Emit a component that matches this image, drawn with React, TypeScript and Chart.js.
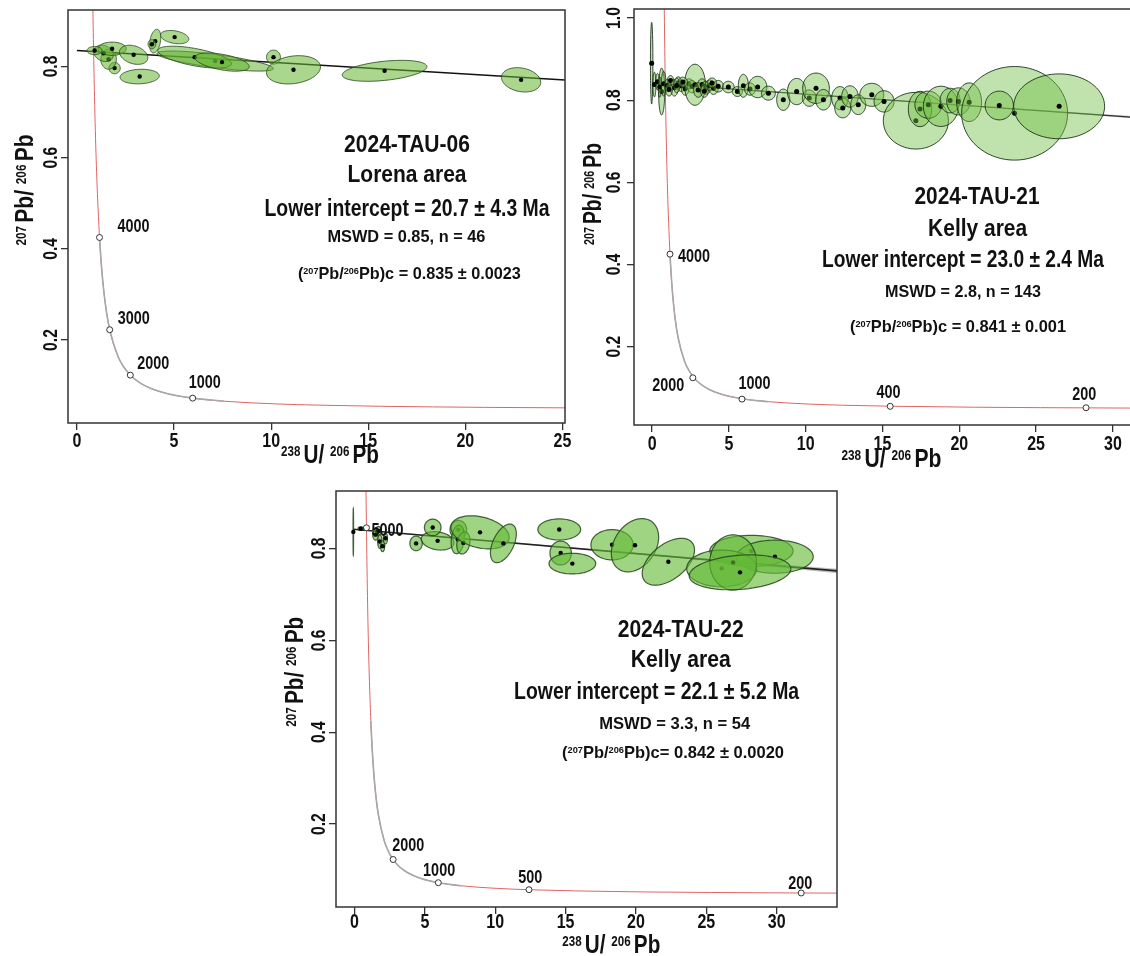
import React, { useEffect, useRef } from 'react';
import { Chart, registerables } from 'chart.js';
Chart.register(...registerables);

const FONT = '"Liberation Sans", Arial, Helvetica, sans-serif';

// ---------- Concordia curve (Tera-Wasserburg), ages in Ma ----------
const concordiaAge = [5300, 5250, 5200, 5100, 5000, 4800, 4500, 4000, 3750, 3500, 3250, 3000, 2500, 2250, 2000, 1750, 1500, 1250, 1000, 800, 600, 500, 400, 300, 250, 200, 180];
const concordiaX = [0.784, 0.795, 0.806, 0.829, 0.853, 0.9045, 0.99, 1.163, 1.267, 1.387, 1.525, 1.687, 2.111, 2.394, 2.749, 3.206, 3.817, 4.673, 5.959, 7.568, 10.252, 12.399, 15.621, 20.992, 25.289, 31.735, 35.316];
const concordiaY = [1.046, 1.009, 0.9735, 0.907, 0.845, 0.7346, 0.597, 0.425, 0.36, 0.306, 0.2605, 0.2226, 0.1643, 0.1419, 0.123, 0.1071, 0.0936, 0.0822, 0.0725, 0.0658, 0.0599, 0.0572, 0.0547, 0.0523, 0.0512, 0.0501, 0.0497];

// ---------- Axis ticks ----------
const xTicks1 = [0, 5, 10, 15, 20, 25];
const xTicks2 = [0, 5, 10, 15, 20, 25, 30];
const xTicks3 = [0, 5, 10, 15, 20, 25, 30];
const yTicks1 = [0.2, 0.4, 0.6, 0.8];
const yTicks2 = [0.2, 0.4, 0.6, 0.8, 1.0];
const yTicks3 = [0.2, 0.4, 0.6, 0.8];
const yTickLabels1 = ['0.2', '0.4', '0.6', '0.8'];
const yTickLabels2 = ['0.2', '0.4', '0.6', '0.8', '1.0'];
const yTickLabels3 = ['0.2', '0.4', '0.6', '0.8'];

// ---------- Panel 1: 2024-TAU-06 ----------
const p1X = [7.12, 6.06, 7.47, 3.23, 1.94, 1.63, 1.37, 1.81, 0.91, 2.92, 4.03, 3.86, 5.03, 10.12, 11.15, 15.84, 22.87];
const p1Y = [0.812, 0.8206, 0.8097, 0.778, 0.7965, 0.816, 0.829, 0.839, 0.835, 0.8257, 0.8557, 0.849, 0.8645, 0.8206, 0.7928, 0.7906, 0.7708];
const p1SX = [3.0, 1.9, 1.4, 1.01, 0.29, 0.4, 0.5, 0.73, 0.39, 0.73, 0.29, 0.2, 0.73, 0.36, 1.39, 2.18, 1.01];
const p1SY = [0.022, 0.024, 0.02, 0.016, 0.0124, 0.022, 0.018, 0.0146, 0.009, 0.021, 0.026, 0.01, 0.0146, 0.0154, 0.031, 0.023, 0.0267];
const p1Rho = [-0.75, -0.6, -0.5, 0.1, 0, 0, -0.2, 0, 0, -0.3, 0.3, 0, -0.3, 0, 0.2, 0.4, -0.2];
const p1LineX = [0, 25.14];
const p1LineY = [0.835, 0.7704];
const p1AgeLabels = ['4000', '3000', '2000', '1000'];
const p1AgeX = [1.163, 1.687, 2.749, 5.959];
const p1AgeY = [0.425, 0.2226, 0.123, 0.0725];
const p1Notes = ['2024-TAU-06', 'Lorena area', 'Lower intercept = 20.7 ± 4.3 Ma', 'MSWD = 0.85, n = 46', 'Pb)c = 0.835 ± 0.0023'];

// ---------- Panel 2: 2024-TAU-21 ----------
const p2X = [-0.03, 0.62, 0.15, 0.35, 0.5, 0.75, 1.0, 1.2, 1.45, 1.7, 1.9, 2.15, 2.4, 2.6, 2.79, 3.0, 3.25, 3.5, 3.75, 4.0, 4.3, 1.1, 1.6, 2.0, 3.4, 3.9, 4.96, 5.55, 5.94, 6.37, 6.87, 7.57, 8.54, 9.41, 10.23, 10.67, 11.15, 12.23, 12.41, 12.88, 13.42, 14.3, 15.1, 17.17, 17.44, 17.98, 18.8, 19.4, 19.94, 20.64, 23.6, 22.6, 26.5];
const p2Y = [0.89, 0.821, 0.838, 0.845, 0.832, 0.84, 0.836, 0.848, 0.83, 0.842, 0.835, 0.828, 0.84, 0.833, 0.8375, 0.825, 0.838, 0.83, 0.836, 0.829, 0.834, 0.826, 0.836, 0.844, 0.822, 0.842, 0.832, 0.821, 0.835, 0.827, 0.832, 0.817, 0.801, 0.821, 0.805, 0.829, 0.801, 0.805, 0.781, 0.809, 0.789, 0.813, 0.797, 0.75, 0.7785, 0.789, 0.785, 0.799, 0.797, 0.795, 0.768, 0.787, 0.785];
const p2SX = [0.08, 0.2, 0.1, 0.12, 0.1, 0.15, 0.2, 0.2, 0.25, 0.22, 0.25, 0.25, 0.3, 0.3, 0.68, 0.3, 0.28, 0.32, 0.3, 0.3, 0.35, 0.22, 0.2, 0.3, 0.25, 0.3, 0.38, 0.33, 0.33, 0.35, 0.6, 0.45, 0.43, 0.6, 0.45, 0.87, 0.5, 0.54, 0.52, 0.54, 0.49, 0.78, 0.65, 2.12, 0.76, 0.87, 1.14, 0.65, 0.76, 0.81, 3.45, 0.92, 2.96];
const p2SY = [0.0995, 0.057, 0.03, 0.02, 0.025, 0.03, 0.015, 0.012, 0.02, 0.015, 0.014, 0.016, 0.012, 0.015, 0.05, 0.018, 0.014, 0.016, 0.013, 0.015, 0.014, 0.016, 0.018, 0.012, 0.015, 0.012, 0.014, 0.012, 0.028, 0.015, 0.026, 0.017, 0.026, 0.032, 0.02, 0.037, 0.025, 0.028, 0.024, 0.026, 0.024, 0.028, 0.026, 0.069, 0.043, 0.033, 0.049, 0.03, 0.033, 0.047, 0.114, 0.035, 0.079];
const p2Rho = p2X.map(() => 0);
const p2LineX = [0, 33];
const p2LineY = [0.841, 0.7539];
const p2BandX = [0, 10, 20, 27, 33];
const p2BandLo = [0.84, 0.8137, 0.7869, 0.7679, 0.7508];
const p2BandHi = [0.842, 0.8155, 0.7895, 0.7715, 0.757];
const p2AgeLabels = ['4000', '2000', '1000', '400', '200'];
const p2AgeX = [1.163, 2.65, 5.85, 15.5, 28.25];
const p2AgeY = [0.425, 0.124, 0.072, 0.0545, 0.051];
const p2Notes = ['2024-TAU-21', 'Kelly area', 'Lower intercept = 23.0 ± 2.4 Ma', 'MSWD = 2.8, n = 143', 'Pb)c = 0.841 ± 0.001'];

// ---------- Panel 3: 2024-TAU-22 ----------
const p3X = [-0.08, 0.45, 1.5, 1.7, 1.8, 2.0, 2.2, 4.38, 5.91, 5.56, 7.38, 7.34, 7.74, 8.92, 10.58, 14.55, 14.65, 15.48, 18.3, 19.93, 22.3, 28.2, 29.87, 26.09, 26.9, 27.39];
const p3Y = [0.836, 0.843, 0.83, 0.838, 0.815, 0.805, 0.822, 0.811, 0.8165, 0.8457, 0.841, 0.8196, 0.812, 0.835, 0.811, 0.8413, 0.79, 0.767, 0.808, 0.807, 0.771, 0.7946, 0.782, 0.7565, 0.7696, 0.748];
const p3SX = [0.02, 0.2, 0.2, 0.18, 0.15, 0.15, 0.15, 0.44, 1.16, 0.59, 0.59, 0.47, 0.47, 2.07, 0.92, 1.52, 0.76, 1.66, 1.5, 1.68, 1.86, 2.96, 2.72, 2.49, 1.66, 3.61];
const p3SY = [0.051, 0.004, 0.012, 0.01, 0.015, 0.012, 0.012, 0.016, 0.02, 0.018, 0.02, 0.031, 0.024, 0.036, 0.042, 0.023, 0.026, 0.0225, 0.033, 0.058, 0.051, 0.034, 0.036, 0.04, 0.06, 0.038];
const p3Rho = [0, 0, 0, 0, 0, 0, 0, 0, -0.2, 0, 0, 0.2, 0.2, -0.3, 0.5, 0, 0, 0, 0, 0.3, 0.5, 0, 0, 0, 0, 0.2];
const p3LineX = [-0.1, 34.3];
const p3LineY = [0.842, 0.7511];
const p3BandX = [0, 10, 20, 28, 34.3];
const p3BandLo = [0.841, 0.8145, 0.7875, 0.765, 0.746];
const p3BandHi = [0.843, 0.8165, 0.7905, 0.7705, 0.756];
const p3AgeLabels = ['5000', '2000', '1000', '500', '200'];
const p3AgeX = [0.853, 2.749, 5.959, 12.399, 31.735];
const p3AgeY = [0.845, 0.123, 0.0725, 0.0572, 0.0501];
const p3Notes = ['2024-TAU-22', 'Kelly area', 'Lower intercept = 22.1 ± 5.2 Ma', 'MSWD = 3.3, n = 54', 'Pb)c= 0.842 ± 0.0020'];

// ---------- drawing helpers ----------
type Seg = [string, boolean?];
function rich(ctx: CanvasRenderingContext2D, segs: Seg[], x: number, y: number, size: number, align: string, opts: { w?: number; sq?: number; rot?: number } = {}) {
  ctx.save();
  ctx.translate(x, y);
  if (opts.rot) ctx.rotate(opts.rot);
  const supSize = size * 0.56;
  const widths = segs.map(([t, sup]) => {
    ctx.font = `bold ${sup ? supSize : size}px ${FONT}`;
    return ctx.measureText(t).width;
  });
  const total = widths.reduce((a, b) => a + b, 0);
  const sq = opts.w ? opts.w / total : opts.sq ?? 0.8;
  ctx.scale(sq, 1);
  let cx = align === 'left' ? 0 : align === 'center' ? -total / 2 : -total;
  const base = size * 0.36;
  ctx.fillStyle = '#111';
  ctx.textAlign = 'left';
  ctx.textBaseline = 'alphabetic';
  segs.forEach(([t, sup], i) => {
    ctx.font = `bold ${sup ? supSize : size}px ${FONT}`;
    ctx.fillText(t, cx, sup ? base - size * 0.3 : base);
    cx += widths[i];
  });
  ctx.restore();
}

const Y_TITLE: Seg[] = [['207 ', true], ['Pb/ ', false], ['206 ', true], ['Pb', false]];
const X_TITLE: Seg[] = [['238 ', true], ['U/ ', false], ['206 ', true], ['Pb', false]];
const ratioSegs = (rest: string): Seg[] => [['(', false], ['207', true], ['Pb/', false], ['206', true], [rest, false]];

type Note = { segs: Seg[]; x: number; y: number; size: number; w: number };
type PanelCfg = {
  left: number; top: number; w: number; h: number;
  area: { l: number; t: number; r: number; b: number };
  xMin: number; xMax: number; yMin: number; yMax: number;
  xTicks: number[]; yTicks: number[]; yTickLabels: string[];
  xLabOff: number; yLabOff: number;
  yTitle: number[]; xTitle: number[];
  ex: number[]; ey: number[]; esx: number[]; esy: number[]; erho: number[];
  eFill: string; eStroke: string; eLw: number; dotR: number;
  lineX: number[]; lineY: number[]; lineColor: string; lineWidth: number;
  bandX?: number[]; bandLo?: number[]; bandHi?: number[];
  ageLabels: string[]; ageX: number[]; ageY: number[]; ageOff: [number, number, string][];
  notes: Note[];
};

function buildConfig(c: PanelCfg): any {
  const pts = (xs: number[], ys: number[]) => xs.map((x, i) => ({ x, y: ys[i] }));
  const concPts = pts(concordiaX, concordiaY);
  const greyPts = concPts.filter((_, i) => concordiaAge[i] <= 4000 && concordiaAge[i] >= 800);
  const datasets: any[] = [
    { type: 'scatter', data: pts(c.ageX, c.ageY), pointRadius: 3, pointBackgroundColor: '#fff', pointBorderColor: '#333', pointBorderWidth: 1 },
    { type: 'line', data: pts(c.lineX, c.lineY), borderColor: c.lineColor, borderWidth: c.lineWidth, pointRadius: 0, fill: false },
    { type: 'line', data: greyPts, borderColor: '#a8a8a8', borderWidth: 1.6, pointRadius: 0, cubicInterpolationMode: 'monotone', fill: false },
    { type: 'line', data: concPts, borderColor: '#e06464', borderWidth: 1, pointRadius: 0, cubicInterpolationMode: 'monotone', fill: false },
  ];
  if (c.bandX && c.bandLo && c.bandHi) {
    datasets.push({ type: 'line', data: pts(c.bandX, c.bandLo), borderWidth: 0, borderColor: 'rgba(0,0,0,0)', pointRadius: 0, fill: false });
    datasets.push({ type: 'line', data: pts(c.bandX, c.bandHi), borderWidth: 0, borderColor: 'rgba(0,0,0,0)', backgroundColor: 'rgba(150,150,150,0.6)', pointRadius: 0, fill: '-1' });
  }
  const gridOpts = { drawOnChartArea: false, drawTicks: true, tickLength: 7, color: '#333', lineWidth: 1.3 };
  const plugin = {
    id: 'tw',
    afterDatasetsDraw(chart: any) {
      const ctx: CanvasRenderingContext2D = chart.ctx;
      const ca = chart.chartArea;
      const xs = chart.scales.x, ys = chart.scales.y;
      ctx.save();
      ctx.beginPath();
      ctx.rect(ca.left, ca.top, ca.right - ca.left, ca.bottom - ca.top);
      ctx.clip();
      for (let i = 0; i < c.ex.length; i++) {
        const r = c.erho[i];
        const q = Math.sqrt(1 - r * r);
        ctx.beginPath();
        for (let k = 0; k <= 72; k++) {
          const t = (k / 72) * Math.PI * 2;
          const vx = c.ex[i] + c.esx[i] * Math.cos(t);
          const vy = c.ey[i] + c.esy[i] * (r * Math.cos(t) + q * Math.sin(t));
          const px = xs.getPixelForValue(vx), py = ys.getPixelForValue(vy);
          if (k === 0) ctx.moveTo(px, py); else ctx.lineTo(px, py);
        }
        ctx.closePath();
        ctx.fillStyle = c.eFill;
        ctx.fill();
        ctx.strokeStyle = c.eStroke;
        ctx.lineWidth = c.eLw;
        ctx.stroke();
        ctx.beginPath();
        ctx.arc(xs.getPixelForValue(c.ex[i]), ys.getPixelForValue(c.ey[i]), c.dotR, 0, Math.PI * 2);
        ctx.fillStyle = '#000';
        ctx.fill();
      }
      ctx.restore();
    },
    afterDraw(chart: any) {
      const ctx: CanvasRenderingContext2D = chart.ctx;
      const ca = chart.chartArea;
      const xs = chart.scales.x, ys = chart.scales.y;
      ctx.save();
      ctx.strokeStyle = '#333';
      ctx.lineWidth = 1.5;
      ctx.strokeRect(ca.left, ca.top, ca.right - ca.left, ca.bottom - ca.top);
      c.xTicks.forEach((v) => rich(ctx, [[String(v)]], xs.getPixelForValue(v), ca.bottom + c.xLabOff, 20, 'center', { sq: 0.8 }));
      c.yTicks.forEach((v, i) => rich(ctx, [[c.yTickLabels[i]]], ca.left - c.yLabOff, ys.getPixelForValue(v), 20, 'center', { sq: 0.78, rot: -Math.PI / 2 }));
      rich(ctx, Y_TITLE, c.yTitle[0], c.yTitle[1], 26, 'center', { w: c.yTitle[2], rot: -Math.PI / 2 });
      rich(ctx, X_TITLE, c.xTitle[0], c.xTitle[1], 26, 'center', { w: c.xTitle[2] });
      c.ageLabels.forEach((lab, i) => {
        const [dx, dy, al] = c.ageOff[i];
        rich(ctx, [[lab]], xs.getPixelForValue(c.ageX[i]) + dx, ys.getPixelForValue(c.ageY[i]) + dy, 18, al, { sq: 0.8 });
      });
      c.notes.forEach((n) => rich(ctx, n.segs, n.x, n.y, n.size, 'center', { w: n.w }));
      ctx.restore();
    },
  };
  return {
    type: 'scatter',
    data: { datasets },
    options: {
      animation: false,
      responsive: false,
      maintainAspectRatio: false,
      layout: { padding: { left: 0, top: c.area.t, right: c.w - c.area.r, bottom: 0 } },
      plugins: { legend: { display: false }, tooltip: { enabled: false } },
      scales: {
        x: {
          type: 'linear', min: c.xMin, max: c.xMax,
          afterBuildTicks: (s: any) => { s.ticks = c.xTicks.map((v) => ({ value: v })); },
          afterFit: (s: any) => { s.height = c.h - c.area.b; },
          ticks: { display: false }, grid: gridOpts, border: { display: false },
        },
        y: {
          type: 'linear', min: c.yMin, max: c.yMax,
          afterBuildTicks: (s: any) => { s.ticks = c.yTicks.map((v) => ({ value: v })); },
          afterFit: (s: any) => { s.width = c.area.l; },
          ticks: { display: false }, grid: gridOpts, border: { display: false },
        },
      },
    },
    plugins: [plugin],
  };
}

const panels: PanelCfg[] = [
  {
    left: 0, top: 0, w: 575, h: 475,
    area: { l: 68, t: 10, r: 565, b: 423 },
    xMin: -0.46, xMax: 25.13, yMin: 0.018, yMax: 0.924,
    xTicks: xTicks1, yTicks: yTicks1, yTickLabels: yTickLabels1, xLabOff: 17, yLabOff: 18,
    yTitle: [24, 190, 111], xTitle: [330, 454, 98],
    ex: p1X, ey: p1Y, esx: p1SX, esy: p1SY, erho: p1Rho,
    eFill: 'rgba(100,180,50,0.55)', eStroke: 'rgba(40,70,30,0.8)', eLw: 1, dotR: 2.2,
    lineX: p1LineX, lineY: p1LineY, lineColor: '#111', lineWidth: 1.5,
    ageLabels: p1AgeLabels, ageX: p1AgeX, ageY: p1AgeY,
    ageOff: [[18, -12, 'left'], [8, -12, 'left'], [7, -13, 'left'], [-4, -17, 'left']],
    notes: [
      { segs: [[p1Notes[0]]], x: 407, y: 143, size: 24, w: 126 },
      { segs: [[p1Notes[1]]], x: 407, y: 173.7, size: 24, w: 119 },
      { segs: [[p1Notes[2]]], x: 407, y: 207, size: 24, w: 285 },
      { segs: [[p1Notes[3]]], x: 406.4, y: 235.5, size: 17, w: 158 },
      { segs: ratioSegs(p1Notes[4]), x: 409.4, y: 273.3, size: 17, w: 223 },
    ],
  },
  {
    left: 575, top: 0, w: 600, h: 475,
    area: { l: 59, t: 9, r: 584, b: 425 },
    xMin: -1.18, xMax: 33.0, yMin: 0.009, yMax: 1.022,
    xTicks: xTicks2, yTicks: yTicks2, yTickLabels: yTickLabels2, xLabOff: 18, yLabOff: 21,
    yTitle: [17, 194, 102], xTitle: [316.4, 458, 100],
    ex: p2X, ey: p2Y, esx: p2SX, esy: p2SY, erho: p2Rho,
    eFill: 'rgba(115,190,70,0.45)', eStroke: 'rgba(20,40,20,0.85)', eLw: 1, dotR: 2.5,
    lineX: p2LineX, lineY: p2LineY, lineColor: '#333', lineWidth: 1.2,
    bandX: p2BandX, bandLo: p2BandLo, bandHi: p2BandHi,
    ageLabels: p2AgeLabels, ageX: p2AgeX, ageY: p2AgeY,
    ageOff: [[8, 1, 'left'], [-8.5, 7, 'right'], [-3.5, -17, 'left'], [-1.7, -15, 'center'], [-1.7, -14, 'center']],
    notes: [
      { segs: [[p2Notes[0]]], x: 402, y: 195.3, size: 24, w: 125 },
      { segs: [[p2Notes[1]]], x: 402.6, y: 227.5, size: 24, w: 99 },
      { segs: [[p2Notes[2]]], x: 388, y: 258.3, size: 24, w: 282 },
      { segs: [[p2Notes[3]]], x: 388, y: 291, size: 17, w: 156 },
      { segs: ratioSegs(p2Notes[4]), x: 383, y: 326, size: 17, w: 216 },
    ],
  },
  {
    left: 280, top: 478, w: 570, h: 478,
    area: { l: 56, t: 13, r: 557, b: 429 },
    xMin: -1.31, xMax: 34.28, yMin: 0.0196, yMax: 0.925,
    xTicks: xTicks3, yTicks: yTicks3, yTickLabels: yTickLabels3, xLabOff: 14, yLabOff: 18,
    yTitle: [14, 193.7, 110], xTitle: [331.3, 466, 98],
    ex: p3X, ey: p3Y, esx: p3SX, esy: p3SY, erho: p3Rho,
    eFill: 'rgba(100,185,55,0.62)', eStroke: 'rgba(40,70,30,0.85)', eLw: 1.2, dotR: 2.2,
    lineX: p3LineX, lineY: p3LineY, lineColor: '#222', lineWidth: 1.5,
    bandX: p3BandX, bandLo: p3BandLo, bandHi: p3BandHi,
    ageLabels: p3AgeLabels, ageX: p3AgeX, ageY: p3AgeY,
    ageOff: [[5, 2, 'left'], [-0.8, -15, 'left'], [0.8, -13, 'center'], [1.3, -13, 'center'], [-1, -10.5, 'center']],
    notes: [
      { segs: [[p3Notes[0]]], x: 400.7, y: 150, size: 24, w: 126 },
      { segs: [[p3Notes[1]]], x: 400.7, y: 180.3, size: 24, w: 100 },
      { segs: [[p3Notes[2]]], x: 376.6, y: 212, size: 24, w: 285 },
      { segs: [[p3Notes[3]]], x: 394.7, y: 244.5, size: 17, w: 151 },
      { segs: ratioSegs(p3Notes[4]), x: 393, y: 273.7, size: 17, w: 222 },
    ],
  },
];

function Panel({ cfg }: { cfg: PanelCfg }) {
  const ref = useRef<HTMLCanvasElement>(null);
  useEffect(() => {
    if (!ref.current) return;
    const chart = new Chart(ref.current, buildConfig(cfg));
    return () => chart.destroy();
  }, [cfg]);
  return (
    <canvas
      ref={ref}
      width={cfg.w}
      height={cfg.h}
      style={{ position: 'absolute', left: cfg.left, top: cfg.top, width: cfg.w, height: cfg.h }}
    />
  );
}

export default function App() {
  return (
    <div style={{ position: 'fixed', left: 0, top: 0, width: 1130, height: 956, overflow: 'hidden', background: '#fff' }}>
      {panels.map((p, i) => (
        <Panel key={i} cfg={p} />
      ))}
    </div>
  );
}
